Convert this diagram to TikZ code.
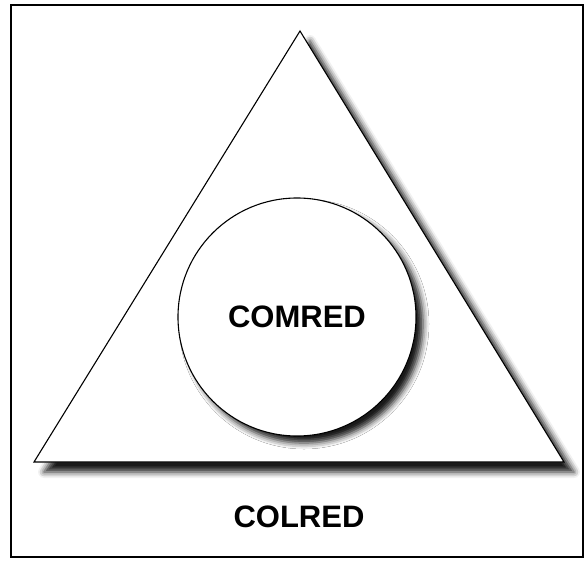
\documentclass[tikz,border=0pt]{standalone}
\usepackage{fontspec}
\setmainfont{Liberation Sans}
\usetikzlibrary{shadows.blur}
\tikzset{
  outline/.style={draw=black,line width=1.1pt,fill=white},
  dropshade/.style={blur shadow={shadow xshift=#1,shadow yshift=-#1,shadow blur radius=6pt,shadow opacity=90}},
  caption/.style={font=\fontsize{31}{31}\selectfont\bfseries}
}
\begin{document}
\begin{tikzpicture}[x=1pt,y=-1pt]
\useasboundingbox (0,0) rectangle (584,560);
% frame
\draw[line width=1.2pt] (11,5) rectangle (583,557);
% triangle with drop shadow
\draw[outline,dropshade=10pt] (34,462) -- (300,31) -- (564,462) -- cycle;
% inner circle
\node[circle,outline,dropshade=7pt,minimum size=238pt,inner sep=0pt,caption] (comred) at (297,317) {COMRED};
% outer label
\node[caption] (colred) at (299,517) {COLRED};
\end{tikzpicture}
\end{document}
